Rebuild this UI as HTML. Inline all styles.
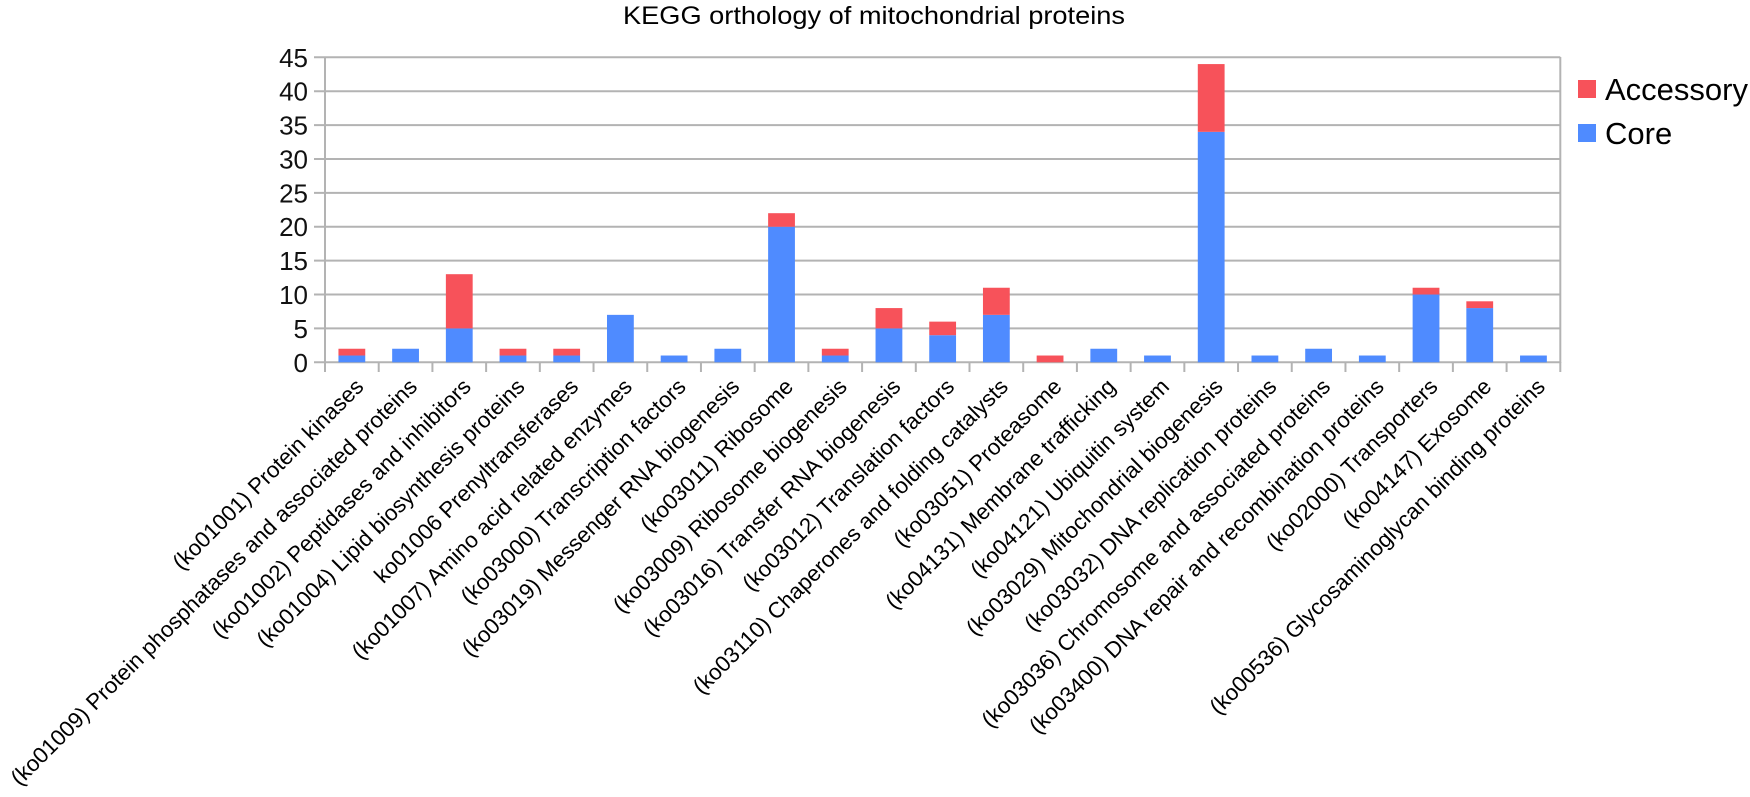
<!DOCTYPE html>
<html><head><meta charset="utf-8"><style>
html,body{margin:0;padding:0;background:#fff;}
svg{display:block;font-family:"Liberation Sans",Arial,sans-serif;}
</style></head><body>
<svg id="c" width="1750" height="797" xmlns="http://www.w3.org/2000/svg">
<text x="874" y="24" font-size="25" text-anchor="middle" textLength="502" lengthAdjust="spacingAndGlyphs" fill="#000">KEGG orthology of mitochondrial proteins</text>
<g id="g"></g>
<rect x="1578" y="80" width="18" height="18" fill="#f7525a"/>
<rect x="1578" y="124" width="18" height="18" fill="#4f8bff"/>
<text x="1605" y="100" font-size="31" fill="#000">Accessory</text>
<text x="1605" y="144" font-size="31" fill="#000">Core</text>
</svg>
<script>
var L=325,R=1560.3,Y0=362.3,U=(362.3-57.3)/45;
var data=[["(ko01001) Protein kinases",1,1],["(ko01009) Protein phosphatases and associated proteins",2,0],["(ko01002) Peptidases and inhibitors",5,8],["(ko01004) Lipid biosynthesis proteins",1,1],["ko01006 Prenyltransferases",1,1],["(ko01007) Amino acid related enzymes",7,0],["(ko03000) Transcription factors",1,0],["(ko03019) Messenger RNA biogenesis",2,0],["(ko03011) Ribosome",20,2],["(ko03009) Ribosome biogenesis",1,1],["(ko03016) Transfer RNA biogenesis",5,3],["(ko03012) Translation factors",4,2],["(ko03110) Chaperones and folding catalysts",7,4],["(ko03051) Proteasome",0,1],["(ko04131) Membrane trafficking",2,0],["(ko04121) Ubiquitin system",1,0],["(ko03029) Mitochondrial biogenesis",34,10],["(ko03032) DNA replication proteins",1,0],["(ko03036) Chromosome and associated proteins",2,0],["(ko03400) DNA repair and recombination proteins",1,0],["(ko02000) Transporters",10,1],["(ko04147) Exosome",8,1],["(ko00536) Glycosaminoglycan binding proteins",1,0]];
var s="",W=(R-L)/23;
for(var i=0;i<=9;i++){var y=Y0-i*5*U;s+='<line x1="314" y1="'+y+'" x2="'+R+'" y2="'+y+'" stroke="#b3b3b3" stroke-width="2"/>';
s+='<text x="308" y="'+(y+9.5)+'" font-size="26" text-anchor="end" fill="#111">'+(i*5)+'</text>';}
s+='<line x1="'+L+'" y1="57" x2="'+L+'" y2="372" stroke="#b3b3b3" stroke-width="2"/>';
s+='<line x1="'+R+'" y1="57" x2="'+R+'" y2="363" stroke="#b3b3b3" stroke-width="2"/>';
for(var i=0;i<23;i++){var x=L+i*W,c=x+W/2,d=data[i];
s+='<line x1="'+(L+(i+1)*W)+'" y1="362" x2="'+(L+(i+1)*W)+'" y2="372" stroke="#b3b3b3" stroke-width="2"/>';
var bx=c-13.4,bw=26.8;
if(d[1])s+='<rect x="'+bx+'" y="'+(Y0-d[1]*U)+'" width="'+bw+'" height="'+(d[1]*U)+'" fill="#4f8bff"/>';
if(d[2])s+='<rect x="'+bx+'" y="'+(Y0-(d[1]+d[2])*U)+'" width="'+bw+'" height="'+(d[2]*U)+'" fill="#f7525a"/>';
s+='<text transform="translate('+(c+13)+',388) rotate(-45)" font-size="22.3" text-anchor="end" fill="#000">'+d[0]+'</text>';}
document.getElementById('g').innerHTML=s;
</script>
</body></html>
